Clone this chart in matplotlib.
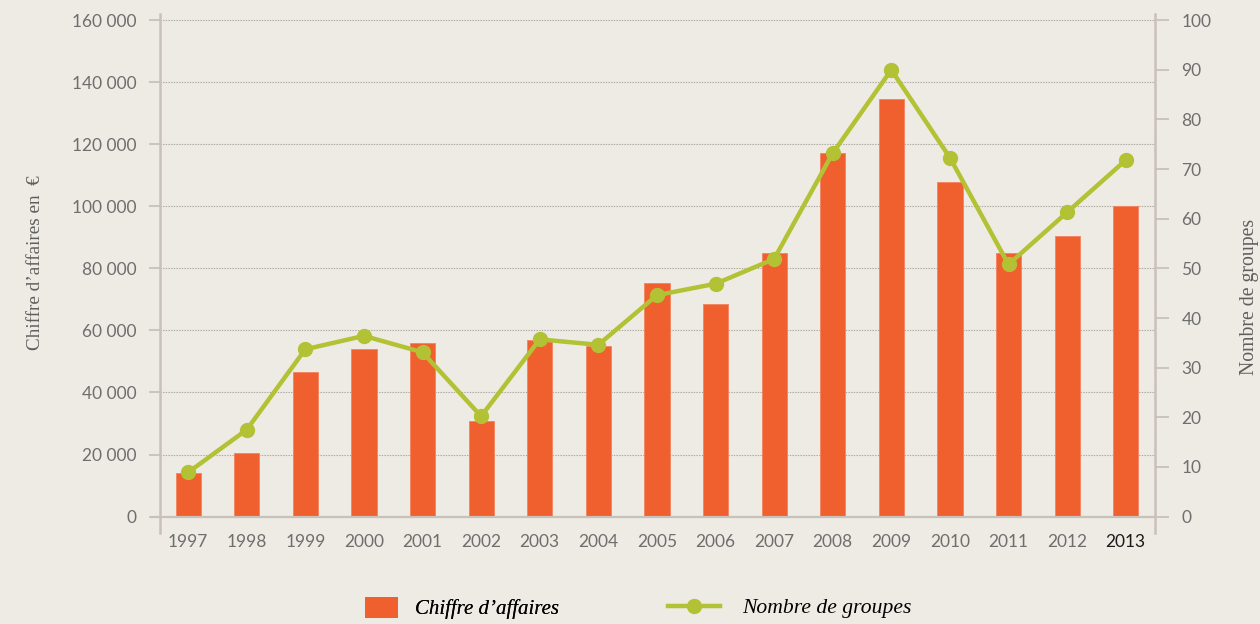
import matplotlib.pyplot as plt
from matplotlib.patches import Patch
from matplotlib.lines import Line2D
from matplotlib.ticker import FuncFormatter

years = ['1997', '1998', '1999', '2000', '2001', '2002', '2003', '2004', '2005',
         '2006', '2007', '2008', '2009', '2010', '2011', '2012', '2013']
chiffre = [14000, 20400, 46700, 54000, 56000, 30700, 57000, 55000, 75400,
           68600, 85100, 117200, 134700, 107700, 85100, 90300, 100000]
groupes = [8.9, 17.5, 33.7, 36.4, 33.1, 20.2, 35.7, 34.6, 44.6,
           46.9, 51.9, 73.2, 90.0, 72.3, 50.8, 61.3, 71.8]

bg = '#eeebe4'
orange = '#f05f2e'
green = '#b3c135'
spine_c = '#c9c1b9'
text_c = '#6e6e6e'

plt.rcParams['font.family'] = ['Lato', 'DejaVu Sans']

fig = plt.figure(figsize=(12.6, 6.24), dpi=100, facecolor=bg)
ax = fig.add_axes([160 / 1260, 1 - 533 / 624, (1155 - 160) / 1260, (533 - 14) / 624])
ax.set_facecolor(bg)
ax2 = ax.twinx()

x = list(range(len(years)))
ax.bar(x, chiffre, width=0.43, color=orange, edgecolor='#f38360', linewidth=0.6, zorder=2)
ax.set_xlim(-0.48, 16.5)
ylo, yhi = -5300, 162000
ax.set_ylim(ylo, yhi)
ax.set_yticks(range(0, 160001, 20000))
ax.yaxis.set_major_formatter(FuncFormatter(lambda v, p: f"{int(v):,}".replace(',', ' ')))
for v in range(20000, 160001, 20000):
    ax.axhline(v, color='#aaa49d', linestyle=(0, (1.2, 1.2)), linewidth=0.8, zorder=1)
ax.axhline(0, color=spine_c, linewidth=1.6, zorder=3, xmin=-0.008, clip_on=False)

ax.set_xticks(x)
ax.set_xticklabels(years)
ax.tick_params(axis='x', length=0, pad=1, labelsize=12.5, labelcolor=text_c)
ax.get_xticklabels()[-1].set_color('#1a1a1a')
ax.tick_params(axis='y', length=8, width=1.3, color=spine_c, pad=9, labelsize=12.5, labelcolor=text_c)

ax2.plot(x, groupes, color=green, linewidth=3.2, marker='o', markersize=10, zorder=4)
ax2.set_ylim(ylo / 1600, yhi / 1600)
ax2.set_yticks(range(0, 101, 10))
ax2.tick_params(axis='y', length=10, width=1.3, color=spine_c, pad=9, labelsize=12.5, labelcolor=text_c)

for a in (ax, ax2):
    a.spines['top'].set_visible(False)
    a.spines['bottom'].set_visible(False)
    for s in ('left', 'right'):
        a.spines[s].set_color(spine_c)
        a.spines[s].set_linewidth(1.8)
ax.spines['right'].set_visible(False)
ax2.spines['left'].set_visible(False)

ax.set_ylabel("Chiffre d’affaires en  €", family='Liberation Serif', fontsize=13.8, color='#5e5e5e')
ax.yaxis.set_label_coords(-0.117, 0.52)
ax2.set_ylabel("Nombre de groupes", family='Liberation Serif', fontsize=14.2, color='#5e5e5e')
ax2.yaxis.set_label_coords(1.085, 0.455)

leg_font = {'family': 'Liberation Serif', 'style': 'italic', 'size': 15}
leg_y = (624 - 608) / 624
leg1 = fig.legend([Patch(facecolor=orange, edgecolor='none')], ["Chiffre d’affaires"],
                  loc='center left', bbox_to_anchor=(365 / 1260, leg_y), frameon=False,
                  borderpad=0, borderaxespad=0, handlelength=1.6, handleheight=1.2,
                  handletextpad=0.8, prop=leg_font)
fig.add_artist(leg1)
leg_font2 = dict(leg_font, size=15.6)
fig.legend([Line2D([], [], color=green, linewidth=3.2, marker='o', markersize=10)],
           ["Nombre de groupes"], loc='center left', bbox_to_anchor=(668 / 1260, leg_y),
           frameon=False, borderpad=0, borderaxespad=0, handlelength=2.4,
           handletextpad=1.0, prop=leg_font2)

fig.savefig('out.png', dpi=100, facecolor=bg)
